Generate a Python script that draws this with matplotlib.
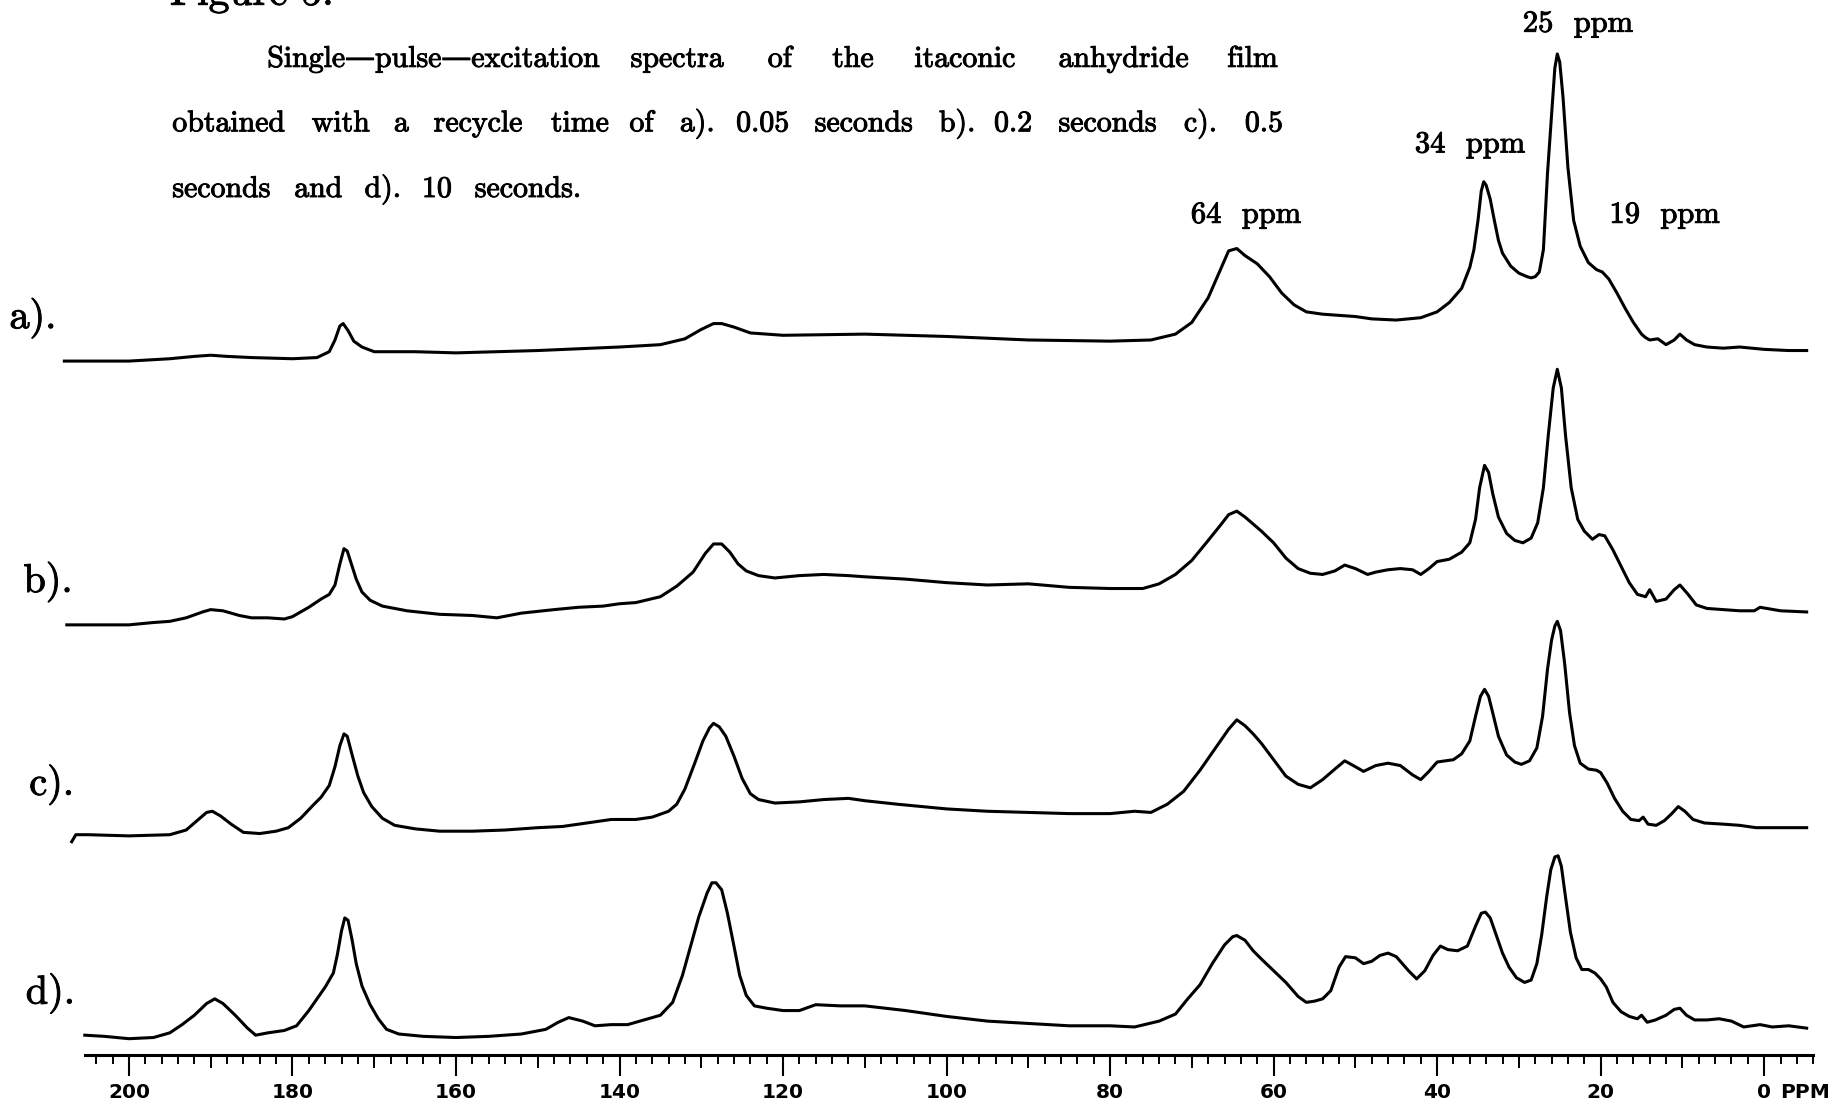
import numpy as np
import matplotlib
matplotlib.use("Agg")
import matplotlib.pyplot as plt
import matplotlib.patheffects as pe
from matplotlib.ticker import FixedLocator, NullFormatter

# spectra: (ppm, height above the right-hand baseline)
trace_a = [(207.9, -10), (204, -10), (200, -10), (195, -8), (192, -6), (190, -5), (188, -6), (185, -7),
           (180, -8), (177, -7), (175.5, -2), (174.8, 8), (174.2, 20), (173.8, 22), (173.2, 16), (172.5, 7),
           (171.5, 2), (170, -2), (165, -2), (160, -3), (150, -1), (140, 2), (135, 4), (132, 9), (130, 17),
           (128.5, 22), (127.5, 22), (126, 19), (124, 14), (120, 12), (110, 13), (100, 11), (90, 8), (80, 7),
           (75, 8), (72, 13), (70, 23), (68, 44), (66.5, 68), (65.5, 84), (64.5, 86), (63.5, 80), (62, 73),
           (60.5, 62), (59, 48), (57.5, 38), (56, 32), (54, 30), (50, 28), (48, 26), (45, 25), (42, 27),
           (40, 32), (38.5, 40), (37, 52), (36, 70), (35.5, 85), (35, 110), (34.6, 135), (34.3, 143),
           (34, 140), (33.5, 128), (33, 110), (32.5, 93), (32, 82), (31, 71), (30, 65), (29, 62), (28.5, 61),
           (28, 62), (27.5, 66), (27, 85), (26.5, 150), (26, 200), (25.6, 240), (25.3, 252), (25, 245),
           (24.6, 215), (24, 155), (23.3, 110), (22.5, 88), (21.5, 74), (20.5, 68), (19.8, 66), (19, 60),
           (18, 48), (17, 35), (16, 23), (15, 13), (14.5, 10), (14, 8), (13, 9), (12, 4), (11, 8), (10.3, 13),
           (9.5, 8), (8.5, 4), (7, 2), (5, 1), (3, 2), (0, 0), (-3, -1), (-5.2, -1)]

trace_b = [(207.6, -12), (204, -12), (200, -12), (197, -10), (195, -9), (193, -6), (191, -1), (190, 1),
           (188.5, 0), (186.5, -4), (185, -6), (183, -6), (181, -7), (180, -5), (178, 3), (176.5, 10),
           (175.5, 14), (174.8, 22), (174.2, 40), (173.7, 53), (173.3, 51), (172.8, 40), (172.2, 27),
           (171.5, 16), (170.5, 9), (169, 4), (166, 0), (162, -3), (158, -4), (155, -6), (152, -2), (148, 1),
           (145, 3), (142, 4), (140, 6), (138, 7), (135, 12), (133, 21), (131, 33), (129.5, 49), (128.5, 57),
           (127.5, 57), (126.5, 50), (125.5, 40), (124.5, 34), (123, 30), (121, 28), (118, 30), (115, 31),
           (112, 30), (110, 29), (105, 27), (100, 24), (95, 22), (90, 23), (85, 20), (80, 19), (76, 19),
           (74, 23), (72, 31), (70, 43), (68, 60), (66.5, 73), (65.5, 82), (64.5, 85), (63.5, 80), (62.5, 74),
           (61.5, 68), (60, 58), (58.5, 45), (57, 36), (55.5, 32), (54, 31), (52.5, 34), (51.3, 39), (50, 36),
           (48.5, 31), (47.5, 33), (46, 35), (44.5, 36), (43, 35), (42, 31), (41, 36), (40, 42), (38.5, 44),
           (37, 50), (36, 58), (35.3, 78), (34.8, 105), (34.2, 124), (33.7, 118), (33.2, 100), (32.5, 80),
           (31.5, 66), (30.5, 60), (29.5, 58), (28.5, 62), (27.7, 75), (27, 105), (26.4, 150), (25.8, 190),
           (25.3, 206), (24.8, 190), (24.3, 150), (23.6, 105), (22.8, 78), (22, 68), (21, 61), (20.2, 65),
           (19.5, 64), (18.5, 52), (17.5, 38), (16.5, 24), (15.5, 14), (14.5, 12), (14, 18), (13.2, 8),
           (12, 10), (11, 18), (10.3, 22), (9.3, 14), (8.3, 5), (7, 2), (5, 1), (3, 0), (1.2, 0), (0.5, 3),
           (-2, 0), (-5.2, -1)]

trace_c = [(207.0, -12), (206.5, -6), (205, -6), (200, -7), (195, -6), (193, -2), (191.5, 7), (190.5, 13),
           (189.8, 14), (188.8, 10), (187.5, 3), (186, -4), (184, -5), (182, -3), (180.5, 0), (179, 8),
           (177.5, 19), (176.5, 26), (175.5, 36), (174.8, 52), (174.2, 70), (173.7, 80), (173.3, 78),
           (172.7, 62), (172, 44), (171.3, 30), (170.3, 18), (169, 8), (167.5, 2), (165, -1), (162, -3),
           (158, -3), (154, -2), (150, 0), (147, 1), (144, 4), (141, 7), (138, 7), (136, 9), (134, 14),
           (133, 20), (132, 33), (130.8, 55), (129.8, 74), (129, 85), (128.5, 89), (127.8, 86), (127, 78),
           (126, 61), (125, 42), (124, 29), (123, 24), (121, 21), (118, 22), (115, 24), (112, 25), (110, 23),
           (106, 20), (100, 16), (95, 14), (90, 13), (85, 12), (80, 12), (77, 14), (75, 13), (73, 20),
           (71, 31), (69, 49), (67, 69), (65.5, 84), (64.5, 92), (63.5, 87), (62.5, 80), (61.5, 72), (60, 58),
           (58.5, 44), (57, 37), (55.5, 34), (54, 41), (52.5, 50), (51.3, 57), (50, 52), (49, 48), (47.5, 53),
           (46, 55), (44.5, 53), (43, 45), (42, 41), (41, 48), (40, 56), (39, 57), (38, 58), (37, 63),
           (36, 74), (35.3, 95), (34.7, 112), (34.2, 118), (33.7, 112), (33.2, 98), (32.5, 78), (31.5, 62),
           (30.5, 56), (29.7, 54), (28.7, 57), (27.8, 68), (27.1, 95), (26.5, 135), (26, 160), (25.6, 172),
           (25.3, 176), (24.9, 168), (24.4, 140), (23.8, 98), (23.2, 70), (22.5, 55), (21.5, 50), (20.5, 49),
           (20, 47), (19.2, 38), (18.3, 25), (17.3, 14), (16.3, 7), (15.3, 6), (14.8, 9), (14.2, 3),
           (13.2, 2), (12.2, 6), (11.3, 12), (10.5, 18), (9.7, 14), (8.7, 7), (7.3, 4), (5, 3), (3, 2),
           (1, 0), (-2, 0), (-5.2, 0)]

trace_d = [(205.4, -6), (203, -7), (200, -9), (197, -8), (195, -4), (193.5, 3), (192, 11), (190.5, 21),
           (189.5, 25), (188.5, 21), (187, 11), (185.5, 0), (184.5, -6), (183, -4), (181, -2), (179.5, 2),
           (178, 15), (177, 25), (176, 35), (175, 47), (174.5, 63), (174, 83), (173.6, 94), (173.2, 92),
           (172.7, 75), (172.2, 55), (171.5, 36), (170.5, 20), (169.5, 8), (168.5, -1), (167, -5), (164, -7),
           (160, -8), (156, -7), (152, -5), (149, -1), (147.5, 5), (146.2, 9), (144.5, 6), (143, 2), (141, 3),
           (139, 3), (137, 7), (135, 11), (133.5, 22), (132.3, 45), (131.3, 70), (130.3, 95), (129.3, 115),
           (128.7, 124), (128.2, 124), (127.5, 118), (126.8, 98), (126, 70), (125.3, 45), (124.5, 28),
           (123.5, 19), (122, 17), (120, 15), (118, 15), (116, 20), (113, 19), (110, 19), (105, 15), (100, 10),
           (95, 6), (90, 4), (85, 2), (80, 2), (77, 1), (74, 6), (72, 12), (70.5, 25), (69, 37), (67.5, 55),
           (66, 71), (65, 78), (64.5, 79), (63.5, 75), (62.5, 66), (61.5, 59), (60, 49), (58.5, 39), (57, 27),
           (56, 22), (55, 23), (54, 25), (53, 32), (52, 52), (51.2, 61), (50, 60), (49, 55), (48, 57),
           (47, 62), (46, 64), (45, 61), (43.5, 49), (42.5, 42), (41.5, 49), (40.5, 62), (39.6, 70),
           (38.7, 67), (37.5, 66), (36.3, 70), (35.3, 87), (34.6, 98), (34.1, 99), (33.5, 94), (32.8, 80),
           (32, 64), (31.2, 52), (30.3, 43), (29.3, 39), (28.5, 41), (27.8, 55), (27.2, 80), (26.6, 112),
           (26.1, 135), (25.6, 146), (25.2, 147), (24.8, 138), (24.3, 112), (23.7, 82), (23, 60), (22.3, 50),
           (21.5, 50), (20.7, 47), (20, 42), (19.3, 35), (18.5, 22), (17.5, 14), (16.5, 10), (15.5, 8),
           (15, 11), (14.3, 5), (13.3, 7), (12, 11), (11, 16), (10.3, 17), (9.5, 11), (8.5, 7), (7, 7),
           (5.5, 8), (4, 6), (2.5, 1), (1.5, 2), (0.5, 3), (-1, 1), (-3, 2), (-5.2, 0)]

traces = [trace_a, trace_b, trace_c, trace_d]
trace_labels = ['a).', 'b).', 'c).', 'd).']
trace_offsets = [602, 379, 194, 23]

peak_labels = ['64  ppm', '34  ppm', '25  ppm', '19  ppm']
peak_label_ppm = [63.4, 36.0, 22.8, 12.2]
peak_label_y = [710, 770, 873, 710]

major_ticks = [200, 180, 160, 140, 120, 100, 80, 60, 40, 20, 0]

# caption, one word at a time so it can be spread like the justified original
caption_words = [
    [('Single\u2014pulse\u2014excitation', 228), ('spectra', 538), ('of', 655), ('the', 710),
     ('itaconic', 780), ('anhydride', 903), ('film', 1047)],
    [('obtained', 147), ('with', 266), ('a', 336), ('recycle', 370), ('time', 470), ('of', 537),
     ('a).', 580), ('0.05', 628), ('seconds', 695), ('b).', 801), ('0.2', 848), ('seconds', 903),
     ('c).', 1010), ('0.5', 1062)],
    [('seconds', 147), ('and', 251), ('d).', 311), ('10', 360), ('seconds.', 405)],
]
caption_baselines = [57, 112, 168]

SERIF = ['cmr10', 'DejaVu Serif']
W, H = 1568.0, 940.0   # coordinates of the layout as read on the picture
ink = [pe.withStroke(linewidth=0.7, foreground='black')]   # the scan prints heavier than cmr10


def fx(x):
    return x / W


def fy(y):
    return 1 - y / H


fig = plt.figure(figsize=(18.38, 11.02), dpi=100)
fig.patch.set_facecolor('white')

y0 = (H - 900) / H
ax = fig.add_axes([0, y0, 1, 1 - y0])
ax.set_xlim((1505 - 0) / 6.975, (1505 - W) / 6.975)
ax.set_ylim(0, 900)
ax.patch.set_alpha(0)

for pts, off in zip(traces, trace_offsets):
    ppm = np.array([p[0] for p in pts])
    hgt = np.array([p[1] for p in pts])
    ax.plot(ppm, hgt + off, color='black', lw=2.2, solid_joinstyle='round', clip_on=False)

for sp in ['top', 'left', 'right']:
    ax.spines[sp].set_visible(False)
ax.spines['bottom'].set_bounds(205.4, -6)
ax.spines['bottom'].set_linewidth(2.2)
ax.set_yticks([])

ax.xaxis.set_major_locator(FixedLocator(major_ticks))
ax.xaxis.set_minor_locator(FixedLocator(np.arange(-6, 205, 2)))
ax.xaxis.set_minor_formatter(NullFormatter())
ax.set_xticklabels([str(t) for t in major_ticks], family='DejaVu Sans', fontsize=14.5, fontweight='bold')
ax.tick_params(axis='x', which='major', direction='out', length=15, width=1.5, pad=5)
ax.tick_params(axis='x', which='minor', direction='out', length=6.5, width=1.4)

# the 10 ppm marks are a little longer than the 2 ppm ones
sec = ax.secondary_xaxis('bottom')
sec.spines['bottom'].set_visible(False)
sec.xaxis.set_major_locator(FixedLocator(np.arange(10, 200, 20)))
sec.xaxis.set_major_formatter(NullFormatter())
sec.tick_params(axis='x', direction='out', length=9.5, width=1.4)

ax.annotate('PPM', xy=(-2.0, 0), xytext=(0, -20), textcoords='offset points', ha='left', va='top',
            family='DejaVu Sans', fontsize=14.5, fontweight='bold', annotation_clip=False)

for lab, px, py in zip(peak_labels, peak_label_ppm, peak_label_y):
    ax.text(px, py, lab, ha='center', va='baseline', family=SERIF, fontsize=22, path_effects=ink)

lab_x = [8, 20, 25, 22]
lab_y = [280, 505, 678, 856]
for lab, lx, ly in zip(trace_labels, lab_x, lab_y):
    fig.text(fx(lx), fy(ly), lab, ha='left', va='baseline', family=SERIF, fontsize=29, path_effects=ink)

for words, base in zip(caption_words, caption_baselines):
    for w, x in words:
        fig.text(fx(x), fy(base), w, ha='left', va='baseline', family=SERIF, fontsize=21.5,
                 path_effects=ink)

# heading of the page, cut off by the top edge of the scan
fig.text(fx(145), fy(4), 'Figure 5.', ha='left', va='baseline', family=SERIF, fontsize=30, path_effects=ink)

plt.savefig('out.png', dpi=100)
